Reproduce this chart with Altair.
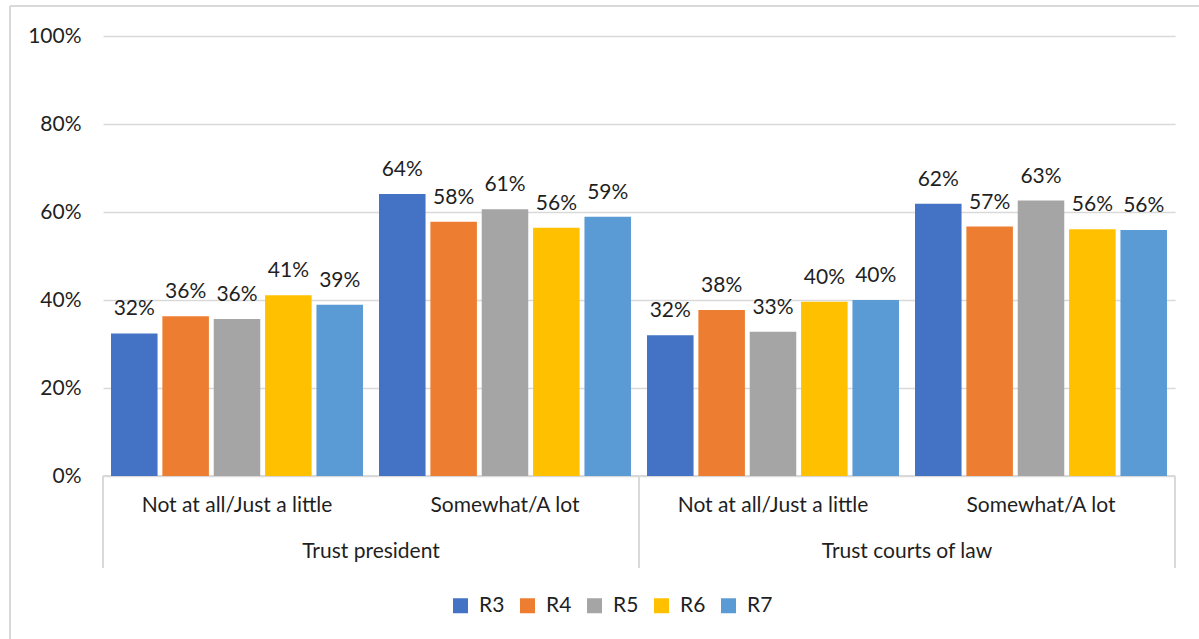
import altair as alt
import pandas as pd

groups = ["Trust president", "Trust president", "Trust courts of law", "Trust courts of law"]
subs = ["Not at all/Just a little", "Somewhat/A lot", "Not at all/Just a little", "Somewhat/A lot"]
series = ["R3", "R4", "R5", "R6", "R7"]
colors = ["#4472C4", "#ED7D31", "#A5A5A5", "#FFC000", "#5B9BD5"]

R3 = [0.324, 0.641, 0.320, 0.619]
R4 = [0.363, 0.578, 0.377, 0.567]
R5 = [0.357, 0.606, 0.328, 0.626]
R6 = [0.411, 0.564, 0.396, 0.561]
R7 = [0.389, 0.589, 0.400, 0.559]
vals = {"R3": R3, "R4": R4, "R5": R5, "R6": R6, "R7": R7}

y_ticks = [0, 0.2, 0.4, 0.6, 0.8, 1.0]

keys = [f"{g} | {s}" for g, s in zip(groups, subs)]

rows = []
for s in series:
    for i, k in enumerate(keys):
        rows.append({"key": k, "series": s, "value": vals[s][i]})
df = pd.DataFrame(rows)

sub_df = pd.DataFrame({"key": keys, "sub": subs})
grp_df = pd.DataFrame({"key": [keys[0], keys[2]], "grp": [groups[0], groups[2]]})
div_left = pd.DataFrame({"key": [keys[0], keys[2]]})
div_right = pd.DataFrame({"key": [keys[3]]})

W, H = 1072, 440
FONT = "Lato"
FS = 21
TXT = "#1f1f1f"
LINE = "#d9d9d9"

xscale = alt.Scale(domain=keys, paddingInner=0, paddingOuter=0)
xenc = alt.X("key:N", sort=keys, scale=xscale, axis=None)
xoff = alt.XOffset("series:N", sort=series,
                   scale=alt.Scale(domain=series, paddingInner=0.094, paddingOuter=0.156))
yenc = alt.Y("value:Q", scale=alt.Scale(domain=[0, 1]),
             axis=alt.Axis(values=y_ticks, format=".0%", title=None, domain=False, ticks=False,
                           labelFont=FONT, labelFontSize=FS, labelColor=TXT, labelPadding=22,
                           gridColor=LINE, gridWidth=1.5))

base = alt.Chart(df)

bars = base.mark_bar().encode(
    x=xenc, xOffset=xoff, y=yenc,
    color=alt.Color("series:N", sort=series, scale=alt.Scale(domain=series, range=colors),
                    legend=alt.Legend(title=None, orient="none", direction="horizontal",
                                      legendX=347, legendY=559, columns=5,
                                      symbolType="square", symbolSize=225, symbolStrokeWidth=0,
                                      labelFont=FONT, labelFontSize=FS, labelColor=TXT,
                                      labelOffset=8, columnPadding=12, padding=0))
)

labels = base.mark_text(baseline="alphabetic", dy=-18, font=FONT, fontSize=FS, color=TXT).encode(
    x=xenc, xOffset=xoff, y=alt.Y("value:Q"),
    text=alt.Text("value:Q", format=".0%")
)

axis_line = alt.Chart(pd.DataFrame({"v": [0]})).mark_rule(color=LINE, strokeWidth=2).encode(
    y=alt.Y("v:Q")
)

dl = alt.Chart(div_left).mark_rule(color=LINE, strokeWidth=2).encode(
    x=alt.X("key:N", sort=keys, bandPosition=0), y=alt.value(H), y2=alt.value(H + 92)
)
dr = alt.Chart(div_right).mark_rule(color=LINE, strokeWidth=2).encode(
    x=alt.X("key:N", sort=keys, bandPosition=1), y=alt.value(H), y2=alt.value(H + 92)
)

sub_text = alt.Chart(sub_df).mark_text(baseline="middle", font=FONT, fontSize=FS, color=TXT).encode(
    x=alt.X("key:N", sort=keys), y=alt.value(H + 30), text="sub:N"
)
grp_text = alt.Chart(grp_df).mark_text(baseline="middle", font=FONT, fontSize=FS, color=TXT).encode(
    x=alt.X("key:N", sort=keys, bandPosition=1), y=alt.value(H + 76), text="grp:N"
)

border_left = alt.Chart(pd.DataFrame({"v": [0]})).mark_rule(color=LINE, strokeWidth=2).encode(
    x=alt.value(-93), y=alt.value(-30), y2=alt.value(H + 200)
)
border_top = alt.Chart(pd.DataFrame({"v": [0]})).mark_rule(color=LINE, strokeWidth=2).encode(
    x=alt.value(-93), x2=alt.value(W + 40), y=alt.value(-30)
)

chart = alt.layer(
    border_left, border_top, axis_line, bars, labels, dl, dr, sub_text, grp_text
).properties(
    width=W, height=H,
    autosize=alt.AutoSizeParams(type="none"),
    padding={"left": 103, "top": 36, "right": 24, "bottom": 163},
    background="white",
).configure_view(stroke=None)

chart.save("out.html", embed_options={"renderer": "svg", "actions": False})
